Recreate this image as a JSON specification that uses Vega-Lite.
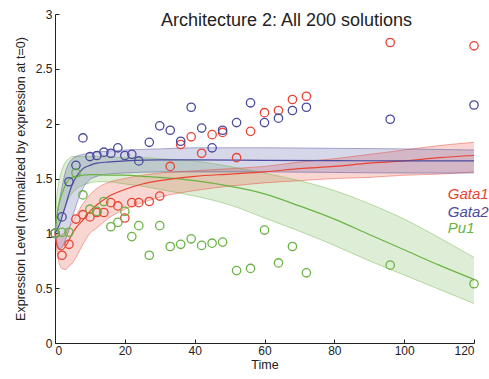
{
  "$schema": "https://vega.github.io/schema/vega-lite/v6.json",
  "width": 419,
  "height": 329,
  "autosize": {"type": "none"},
  "padding": {"left": 55, "top": 14, "right": 15, "bottom": 36},
  "background": "white",
  "title": {
    "text": "Architecture 2: All 200 solutions",
    "font": "Liberation Sans",
    "fontSize": 18,
    "fontWeight": "normal",
    "color": "#222222",
    "anchor": "middle",
    "frame": "group",
    "dx": 22,
    "baseline": "alphabetic",
    "offset": -36
  },
  "config": {
    "view": {"stroke": null},
    "font": "Liberation Sans",
    "axis": {
      "grid": false,
      "domainColor": "#222222",
      "tickColor": "#222222",
      "labelColor": "#222222",
      "titleColor": "#222222",
      "labelFont": "Liberation Sans",
      "titleFont": "Liberation Sans",
      "labelFontSize": 12,
      "titleFontSize": 12.5,
      "titleFontWeight": "normal",
      "tickSize": -4,
      "domainWidth": 1,
      "tickWidth": 1
    }
  },
  "datasets": {
    "points": [
      {"gene": "Gata1", "t": 0, "v": 1.0},
      {"gene": "Gata1", "t": 2, "v": 0.8},
      {"gene": "Gata1", "t": 4, "v": 0.9},
      {"gene": "Gata1", "t": 6, "v": 1.13},
      {"gene": "Gata1", "t": 8, "v": 1.17},
      {"gene": "Gata1", "t": 10, "v": 1.15},
      {"gene": "Gata1", "t": 12, "v": 1.19},
      {"gene": "Gata1", "t": 14, "v": 1.19},
      {"gene": "Gata1", "t": 16, "v": 1.28},
      {"gene": "Gata1", "t": 18, "v": 1.25},
      {"gene": "Gata1", "t": 20, "v": 1.14},
      {"gene": "Gata1", "t": 22, "v": 1.28},
      {"gene": "Gata1", "t": 24, "v": 1.28},
      {"gene": "Gata1", "t": 27, "v": 1.29},
      {"gene": "Gata1", "t": 30, "v": 1.34},
      {"gene": "Gata1", "t": 33, "v": 1.61},
      {"gene": "Gata1", "t": 36, "v": 1.81},
      {"gene": "Gata1", "t": 39, "v": 1.88},
      {"gene": "Gata1", "t": 42, "v": 1.73},
      {"gene": "Gata1", "t": 45, "v": 1.9},
      {"gene": "Gata1", "t": 48, "v": 1.92},
      {"gene": "Gata1", "t": 52, "v": 1.69},
      {"gene": "Gata1", "t": 56, "v": 1.93},
      {"gene": "Gata1", "t": 60, "v": 2.1},
      {"gene": "Gata1", "t": 64, "v": 2.12},
      {"gene": "Gata1", "t": 68, "v": 2.22},
      {"gene": "Gata1", "t": 72, "v": 2.25},
      {"gene": "Gata1", "t": 96, "v": 2.74},
      {"gene": "Gata1", "t": 120, "v": 2.71},
      {"gene": "Gata2", "t": 0, "v": 1.0},
      {"gene": "Gata2", "t": 2, "v": 1.15},
      {"gene": "Gata2", "t": 4, "v": 1.47},
      {"gene": "Gata2", "t": 6, "v": 1.62},
      {"gene": "Gata2", "t": 8, "v": 1.87},
      {"gene": "Gata2", "t": 10, "v": 1.7},
      {"gene": "Gata2", "t": 12, "v": 1.71},
      {"gene": "Gata2", "t": 14, "v": 1.74},
      {"gene": "Gata2", "t": 16, "v": 1.73},
      {"gene": "Gata2", "t": 18, "v": 1.78},
      {"gene": "Gata2", "t": 20, "v": 1.71},
      {"gene": "Gata2", "t": 22, "v": 1.72},
      {"gene": "Gata2", "t": 24, "v": 1.66},
      {"gene": "Gata2", "t": 27, "v": 1.83},
      {"gene": "Gata2", "t": 30, "v": 1.98},
      {"gene": "Gata2", "t": 33, "v": 1.94},
      {"gene": "Gata2", "t": 36, "v": 1.84},
      {"gene": "Gata2", "t": 39, "v": 2.15},
      {"gene": "Gata2", "t": 42, "v": 1.96},
      {"gene": "Gata2", "t": 45, "v": 1.78},
      {"gene": "Gata2", "t": 48, "v": 1.94},
      {"gene": "Gata2", "t": 52, "v": 2.01},
      {"gene": "Gata2", "t": 56, "v": 2.19},
      {"gene": "Gata2", "t": 60, "v": 2.01},
      {"gene": "Gata2", "t": 64, "v": 2.05},
      {"gene": "Gata2", "t": 68, "v": 2.12},
      {"gene": "Gata2", "t": 72, "v": 2.15},
      {"gene": "Gata2", "t": 96, "v": 2.04},
      {"gene": "Gata2", "t": 120, "v": 2.17},
      {"gene": "Pu1", "t": 0, "v": 1.0},
      {"gene": "Pu1", "t": 2, "v": 1.01},
      {"gene": "Pu1", "t": 4, "v": 1.01},
      {"gene": "Pu1", "t": 6, "v": 1.55},
      {"gene": "Pu1", "t": 8, "v": 1.35},
      {"gene": "Pu1", "t": 10, "v": 1.22},
      {"gene": "Pu1", "t": 12, "v": 1.2},
      {"gene": "Pu1", "t": 14, "v": 1.29},
      {"gene": "Pu1", "t": 16, "v": 1.06},
      {"gene": "Pu1", "t": 18, "v": 1.1},
      {"gene": "Pu1", "t": 20, "v": 1.2},
      {"gene": "Pu1", "t": 22, "v": 0.97},
      {"gene": "Pu1", "t": 24, "v": 1.07},
      {"gene": "Pu1", "t": 27, "v": 0.8},
      {"gene": "Pu1", "t": 30, "v": 1.07},
      {"gene": "Pu1", "t": 33, "v": 0.88},
      {"gene": "Pu1", "t": 36, "v": 0.9},
      {"gene": "Pu1", "t": 39, "v": 0.95},
      {"gene": "Pu1", "t": 42, "v": 0.89},
      {"gene": "Pu1", "t": 45, "v": 0.91},
      {"gene": "Pu1", "t": 48, "v": 0.92},
      {"gene": "Pu1", "t": 52, "v": 0.66},
      {"gene": "Pu1", "t": 56, "v": 0.68},
      {"gene": "Pu1", "t": 60, "v": 1.03},
      {"gene": "Pu1", "t": 64, "v": 0.73},
      {"gene": "Pu1", "t": 68, "v": 0.88},
      {"gene": "Pu1", "t": 72, "v": 0.64},
      {"gene": "Pu1", "t": 96, "v": 0.71},
      {"gene": "Pu1", "t": 120, "v": 0.54}
    ],
    "bands": [
      {"gene": "Pu1", "t": 0, "lo": 1.0, "mid": 1.0, "hi": 1.0},
      {"gene": "Pu1", "t": 0.5, "lo": 1.05, "mid": 1.15, "hi": 1.33},
      {"gene": "Pu1", "t": 1, "lo": 1.1, "mid": 1.25, "hi": 1.45},
      {"gene": "Pu1", "t": 1.5, "lo": 1.14, "mid": 1.31, "hi": 1.53},
      {"gene": "Pu1", "t": 2, "lo": 1.18, "mid": 1.36, "hi": 1.58},
      {"gene": "Pu1", "t": 3, "lo": 1.26, "mid": 1.44, "hi": 1.65},
      {"gene": "Pu1", "t": 4, "lo": 1.32, "mid": 1.49, "hi": 1.68},
      {"gene": "Pu1", "t": 5, "lo": 1.37, "mid": 1.51, "hi": 1.7},
      {"gene": "Pu1", "t": 6, "lo": 1.4, "mid": 1.52, "hi": 1.7},
      {"gene": "Pu1", "t": 8, "lo": 1.44, "mid": 1.53, "hi": 1.7},
      {"gene": "Pu1", "t": 10, "lo": 1.46, "mid": 1.535, "hi": 1.7},
      {"gene": "Pu1", "t": 12, "lo": 1.47, "mid": 1.535, "hi": 1.7},
      {"gene": "Pu1", "t": 15, "lo": 1.47, "mid": 1.53, "hi": 1.7},
      {"gene": "Pu1", "t": 20, "lo": 1.45, "mid": 1.53, "hi": 1.69},
      {"gene": "Pu1", "t": 25, "lo": 1.43, "mid": 1.52, "hi": 1.69},
      {"gene": "Pu1", "t": 30, "lo": 1.4, "mid": 1.51, "hi": 1.68},
      {"gene": "Pu1", "t": 40, "lo": 1.34, "mid": 1.48, "hi": 1.66},
      {"gene": "Pu1", "t": 50, "lo": 1.26, "mid": 1.43, "hi": 1.61},
      {"gene": "Pu1", "t": 60, "lo": 1.14, "mid": 1.36, "hi": 1.55},
      {"gene": "Pu1", "t": 70, "lo": 1.02, "mid": 1.25, "hi": 1.48},
      {"gene": "Pu1", "t": 80, "lo": 0.89, "mid": 1.13, "hi": 1.39},
      {"gene": "Pu1", "t": 90, "lo": 0.75, "mid": 0.99, "hi": 1.27},
      {"gene": "Pu1", "t": 100, "lo": 0.62, "mid": 0.85, "hi": 1.13},
      {"gene": "Pu1", "t": 110, "lo": 0.49, "mid": 0.71, "hi": 0.96},
      {"gene": "Pu1", "t": 120, "lo": 0.36, "mid": 0.58, "hi": 0.78},
      {"gene": "Gata1", "t": 0, "lo": 1.0, "mid": 1.0, "hi": 1.0},
      {"gene": "Gata1", "t": 0.5, "lo": 0.85, "mid": 0.9, "hi": 0.99},
      {"gene": "Gata1", "t": 1, "lo": 0.75, "mid": 0.86, "hi": 0.98},
      {"gene": "Gata1", "t": 1.5, "lo": 0.7, "mid": 0.85, "hi": 0.98},
      {"gene": "Gata1", "t": 2, "lo": 0.68, "mid": 0.85, "hi": 0.99},
      {"gene": "Gata1", "t": 3, "lo": 0.67, "mid": 0.88, "hi": 1.01},
      {"gene": "Gata1", "t": 4, "lo": 0.7, "mid": 0.94, "hi": 1.05},
      {"gene": "Gata1", "t": 5, "lo": 0.73, "mid": 1.0, "hi": 1.1},
      {"gene": "Gata1", "t": 6, "lo": 0.78, "mid": 1.05, "hi": 1.16},
      {"gene": "Gata1", "t": 8, "lo": 0.9, "mid": 1.12, "hi": 1.27},
      {"gene": "Gata1", "t": 10, "lo": 1.0, "mid": 1.2, "hi": 1.35},
      {"gene": "Gata1", "t": 12, "lo": 1.05, "mid": 1.26, "hi": 1.41},
      {"gene": "Gata1", "t": 15, "lo": 1.13, "mid": 1.33, "hi": 1.46},
      {"gene": "Gata1", "t": 20, "lo": 1.22, "mid": 1.4, "hi": 1.5},
      {"gene": "Gata1", "t": 25, "lo": 1.28, "mid": 1.45, "hi": 1.53},
      {"gene": "Gata1", "t": 30, "lo": 1.33, "mid": 1.48, "hi": 1.55},
      {"gene": "Gata1", "t": 40, "lo": 1.39, "mid": 1.52, "hi": 1.57},
      {"gene": "Gata1", "t": 50, "lo": 1.43, "mid": 1.54, "hi": 1.59},
      {"gene": "Gata1", "t": 60, "lo": 1.46, "mid": 1.56, "hi": 1.61},
      {"gene": "Gata1", "t": 70, "lo": 1.48, "mid": 1.59, "hi": 1.65},
      {"gene": "Gata1", "t": 80, "lo": 1.5, "mid": 1.61, "hi": 1.68},
      {"gene": "Gata1", "t": 90, "lo": 1.51, "mid": 1.64, "hi": 1.72},
      {"gene": "Gata1", "t": 100, "lo": 1.53, "mid": 1.66, "hi": 1.76},
      {"gene": "Gata1", "t": 110, "lo": 1.54, "mid": 1.69, "hi": 1.8},
      {"gene": "Gata1", "t": 120, "lo": 1.56, "mid": 1.71, "hi": 1.83},
      {"gene": "Gata2", "t": 0, "lo": 1.0, "mid": 1.0, "hi": 1.0},
      {"gene": "Gata2", "t": 0.5, "lo": 0.92, "mid": 1.03, "hi": 1.15},
      {"gene": "Gata2", "t": 1, "lo": 0.87, "mid": 1.06, "hi": 1.25},
      {"gene": "Gata2", "t": 1.5, "lo": 0.86, "mid": 1.1, "hi": 1.34},
      {"gene": "Gata2", "t": 2, "lo": 0.87, "mid": 1.15, "hi": 1.42},
      {"gene": "Gata2", "t": 3, "lo": 0.94, "mid": 1.25, "hi": 1.56},
      {"gene": "Gata2", "t": 4, "lo": 1.03, "mid": 1.36, "hi": 1.64},
      {"gene": "Gata2", "t": 5, "lo": 1.15, "mid": 1.45, "hi": 1.68},
      {"gene": "Gata2", "t": 6, "lo": 1.25, "mid": 1.51, "hi": 1.7},
      {"gene": "Gata2", "t": 8, "lo": 1.41, "mid": 1.59, "hi": 1.72},
      {"gene": "Gata2", "t": 10, "lo": 1.49, "mid": 1.62, "hi": 1.73},
      {"gene": "Gata2", "t": 12, "lo": 1.52, "mid": 1.64, "hi": 1.74},
      {"gene": "Gata2", "t": 15, "lo": 1.54, "mid": 1.65, "hi": 1.75},
      {"gene": "Gata2", "t": 20, "lo": 1.55, "mid": 1.66, "hi": 1.76},
      {"gene": "Gata2", "t": 30, "lo": 1.56, "mid": 1.67, "hi": 1.77},
      {"gene": "Gata2", "t": 40, "lo": 1.56, "mid": 1.67, "hi": 1.78},
      {"gene": "Gata2", "t": 60, "lo": 1.56, "mid": 1.665, "hi": 1.78},
      {"gene": "Gata2", "t": 80, "lo": 1.555, "mid": 1.663, "hi": 1.775},
      {"gene": "Gata2", "t": 100, "lo": 1.55, "mid": 1.66, "hi": 1.77},
      {"gene": "Gata2", "t": 120, "lo": 1.55, "mid": 1.66, "hi": 1.76}
    ],
    "labels": [
      {"gene": "Gata1", "t": 112.5, "v": 1.358},
      {"gene": "Gata2", "t": 112.5, "v": 1.197},
      {"gene": "Pu1", "t": 112.5, "v": 1.046}
    ]
  },
  "encoding": {
    "x": {"field": "t", "type": "quantitative", "scale": {"domain": [0, 120], "nice": false},
          "axis": {"values": [0, 20, 40, 60, 80, 100, 120], "title": "Time", "labelPadding": 6, "titlePadding": 2}},
    "color": {"field": "gene", "type": "nominal", "legend": null,
              "scale": {"domain": ["Gata1", "Gata2", "Pu1"], "range": ["#ea4333", "#4a4a9e", "#6ab344"]}}
  },
  "layer": [
    {
      "data": {"name": "bands"},
      "mark": {"type": "area", "fillOpacity": 0.22, "interpolate": "monotone"},
      "encoding": {
        "y": {"field": "hi", "type": "quantitative", "stack": null, "scale": {"domain": [0, 3], "nice": false},
              "axis": {"values": [0, 0.5, 1, 1.5, 2, 2.5, 3], "format": "~g", "title": "Expression Level (normalized by expression at t=0)", "labelPadding": 7, "titlePadding": 8}},
        "y2": {"field": "lo"}
      }
    },
    {
      "data": {"name": "bands"},
      "mark": {"type": "line", "opacity": 0.45, "strokeWidth": 1, "interpolate": "monotone"},
      "encoding": {
        "y": {"field": "lo", "type": "quantitative"}
      }
    },
    {
      "data": {"name": "bands"},
      "mark": {"type": "line", "opacity": 0.45, "strokeWidth": 1, "interpolate": "monotone"},
      "encoding": {
        "y": {"field": "hi", "type": "quantitative"}
      }
    },
    {
      "data": {"name": "bands"},
      "mark": {"type": "line", "strokeWidth": 1.2, "interpolate": "monotone"},
      "encoding": {
        "y": {"field": "mid", "type": "quantitative"}
      }
    },
    {
      "data": {"name": "points"},
      "mark": {"type": "point", "shape": "circle", "filled": false, "size": 70, "strokeWidth": 1.3, "opacity": 1},
      "encoding": {
        "y": {"field": "v", "type": "quantitative"}
      }
    },
    {
      "data": {"name": "labels"},
      "mark": {"type": "text", "align": "left", "baseline": "middle", "fontSize": 15, "fontStyle": "italic", "font": "Liberation Sans"},
      "encoding": {
        "y": {"field": "v", "type": "quantitative"},
        "text": {"field": "gene"}
      }
    }
  ]
}
